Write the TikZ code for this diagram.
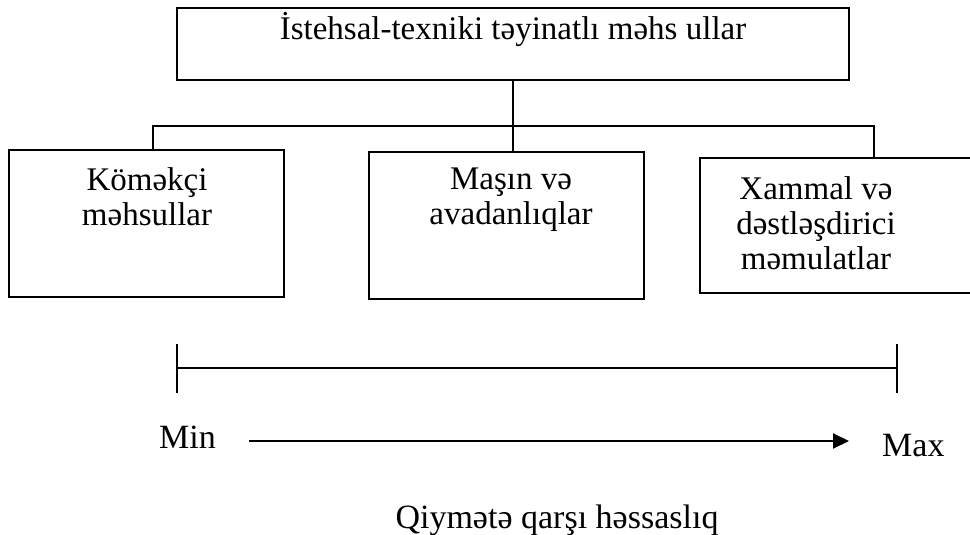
\documentclass[tikz,border=0pt]{standalone}
\usepackage{fontspec}
\setmainfont{Liberation Serif}
\newfontfamily\boxfont{Liberation Serif}
\newfontfamily\axisfont{Liberation Serif}
\usetikzlibrary{arrows.meta}
\begin{document}
\begin{tikzpicture}[x=1pt,y=-1pt,
  boxstyle/.style={draw, line width=2pt, inner sep=0pt, outer sep=0pt, anchor=north west},
  boxtext/.style={font=\boxfont\fontsize{33}{35}\selectfont, align=center, inner sep=0pt},
  axistext/.style={font=\axisfont\fontsize{34}{40}\selectfont, inner sep=0pt},
  conn/.style={line width=2pt},
]
\useasboundingbox (0,0) rectangle (970,535);
\clip (0,0) rectangle (970,535);

% boxes
\node[boxstyle, minimum width=672pt, minimum height=72pt] (top) at (177,8) {};
\node[boxstyle, minimum width=275pt, minimum height=147pt] (b1) at (9,150) {};
\node[boxstyle, minimum width=275pt, minimum height=147pt] (b2) at (369,152) {};
\node[boxstyle, minimum width=290pt, minimum height=135pt] (b3) at (700,158) {};

% texts
\node[boxtext, anchor=base] (ttop) at (513,40) {İstehsal-texniki təyinatlı məhs ullar};
\node[boxtext, anchor=north] (t1) at (147,167.5) {Köməkçi\\məhsullar};
\node[boxtext, anchor=north] (t2) at (511,168) {Maşın və\\avadanlıqlar};
\node[boxtext, anchor=north] (t3) at (816,176.5) {Xammal və\\dəstləşdirici\\məmulatlar};

% connectors
\coordinate (jl) at (153,126);
\coordinate (jr) at (874,126);
\draw[conn] (top.south) -- (top.south |- b2.north);
\draw[conn] (jl |- b1.north) -- (jl) -- (jr) -- (jr |- b3.north);

% scale bracket
\coordinate (bl) at (177,368);
\coordinate (br) at (897,368);
\coordinate (blt) at (177,344);
\coordinate (blb) at (177,393);
\coordinate (brt) at (897,344);
\coordinate (brb) at (897,393);
\draw[conn] (bl) -- (br);
\draw[conn] (blt) -- (blb);
\draw[conn] (brt) -- (brb);

% min-max arrow
\node[axistext, anchor=base west] (min) at (159,448) {Min};
\node[axistext, anchor=base west] (max) at (882,456) {Max};
\coordinate (as) at (249,441);
\coordinate (ae) at (849,441);
\draw[conn, -{Triangle[length=16pt,width=15pt]}] (as) -- (ae);

\node[axistext, anchor=base] (cap) at (557,528) {Qiymətə qarşı həssaslıq};
\end{tikzpicture}
\end{document}
